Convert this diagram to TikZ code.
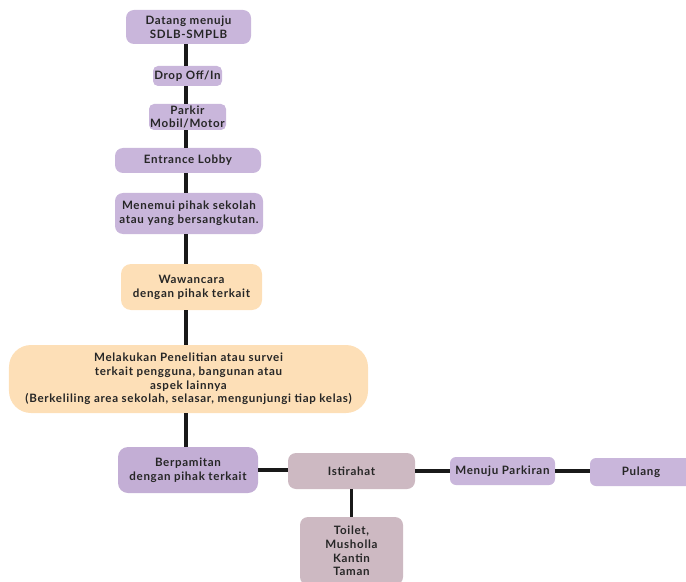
\documentclass[tikz,border=0pt]{standalone}
\usepackage{fontspec}
\setmainfont{Lato}[BoldFont={* Bold},LetterSpace=6]
\definecolor{lilac}{HTML}{C9B6DB}
\definecolor{lilacdark}{HTML}{C3AED5}
\definecolor{peach}{HTML}{FDDFB7}
\definecolor{mauve}{HTML}{CDB9C2}
\begin{document}
\begin{tikzpicture}[x=1bp,y=-1bp,
  box/.style={rounded corners=8bp, draw=none, align=center, inner sep=0pt,
    font=\fontsize{11.6}{13.8}\selectfont\bfseries, text=black!85},
  lil/.style={box, fill=lilac},
  pch/.style={box, fill=peach},
  link/.style={line width=4.5bp, black!90},
  thin link/.style={line width=3.5bp, black!90}]
\useasboundingbox (0,0) rectangle (686,582);
\clip (0,0) rectangle (686,582);

% main column
\node[lil, minimum width=125bp, minimum height=34bp] (come) at (188.5,27) {Datang menuju\\SDLB-SMPLB};
\node[lil, minimum width=69bp, minimum height=20bp, rounded corners=5bp] (drop) at (187.5,76) {Drop Off/In};
\node[lil, minimum width=77bp, minimum height=26bp, rounded corners=5bp] (park) at (187.5,117) {Parkir\\Mobil/Motor};
\node[lil, minimum width=146bp, minimum height=25bp] (lobby) at (188,160.5) {Entrance Lobby};
\node[lil, minimum width=148bp, minimum height=41bp] (meet) at (189,213.5) {Menemui pihak sekolah\\atau yang bersangkutan.};
\node[pch, minimum width=141bp, minimum height=46bp, rounded corners=10bp] (talk) at (191.5,287) {Wawancara\\dengan pihak terkait};
\node[pch, minimum width=359bp, minimum height=68bp, rounded corners=22bp] (survey) at (188.5,379)
  {Melakukan Penelitian atau survei\\terkait pengguna, bangunan atau\\aspek lainnya\\(Berkeliling area sekolah, selasar, mengunjungi tiap kelas)};
\node[box, fill=lilacdark, minimum width=140bp, minimum height=46bp, rounded corners=10bp] (bye) at (188,470) {Berpamitan\\dengan pihak terkait};

% bottom row
\node[box, fill=mauve, minimum width=127bp, minimum height=36bp] (rest) at (351.5,471) {Istirahat};
\node[lil, minimum width=105bp, minimum height=28bp, rounded corners=6bp] (togo) at (502.5,471) {Menuju Parkiran};
\node[lil, minimum width=102bp, minimum height=28bp, rounded corners=6bp] (home) at (641,472) {Pulang};
\node[box, fill=mauve, minimum width=103bp, minimum height=68bp] (fac) at (351.5,551) {Toilet,\\Musholla\\Kantin\\Taman};

% vertical spine
\coordinate (spine) at (186,0);
\foreach \a/\b in {come/drop, drop/park, park/lobby, lobby/meet, meet/talk, talk/survey, survey/bye}
  \draw[link] (\a.south -| spine) -- (\b.north -| spine);

% bottom row connectors
\draw[link] (bye.east |- 0,470) -- (rest.west |- 0,470);
\draw[link] (rest.east) -- (togo.west);
\draw[link] (togo.east) -- (togo.east -| home.west);
\draw[thin link] (rest.south) -- (fac.north);
\end{tikzpicture}
\end{document}
